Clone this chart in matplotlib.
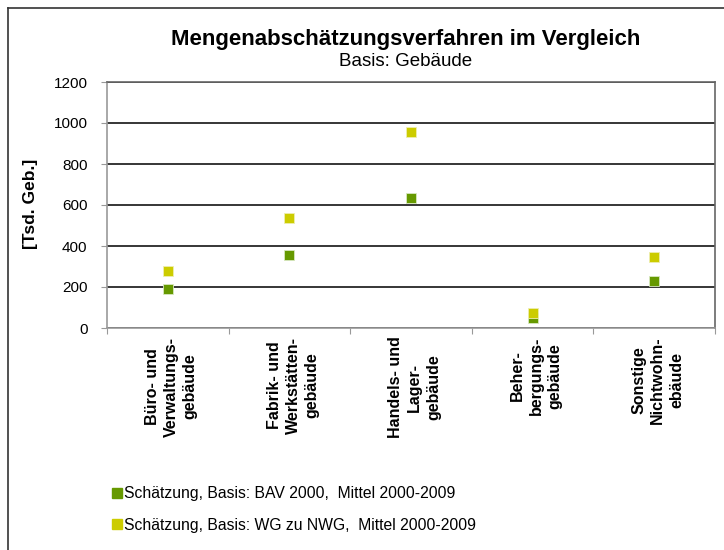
import matplotlib.pyplot as plt
import matplotlib.lines as mlines
import numpy as np

plt.rcParams['font.family'] = ['Liberation Sans', 'DejaVu Sans']

# Daten
kategorien = ['Büro- und\nVerwaltungs-\ngebäude',
              'Fabrik- und\nWerkstätten-\ngebäude',
              'Handels- und\nLager-\ngebäude',
              'Beher-\nbergungs-\ngebäude',
              'Sonstige\nNichtwohn-\nebäude']
bav_2000 = [189, 355, 632, 49, 228]
wg_zu_nwg = [277, 539, 957, 73, 345]
legende = ['Schätzung, Basis: BAV 2000,  Mittel 2000-2009',
           'Schätzung, Basis: WG zu NWG,  Mittel 2000-2009']
farben = ['#669900', '#cccc00']

fig = plt.figure(figsize=(7.24, 5.5), dpi=100)
ax = fig.add_axes([107 / 724, 1 - 328 / 550, (715 - 107) / 724, (328 - 82) / 550])

x = np.arange(len(kategorien))
ax.plot(x, bav_2000, linestyle='none', marker='s', markersize=7.5,
        markerfacecolor=farben[0], markeredgecolor='#d8e8c0', markeredgewidth=0.6, zorder=3)
ax.plot(x, wg_zu_nwg, linestyle='none', marker='s', markersize=7.5,
        markerfacecolor=farben[1], markeredgecolor='#eeeeb0', markeredgewidth=0.6, zorder=3)

ax.set_xlim(-0.5, len(kategorien) - 0.5)
ax.set_ylim(0, 1200)
ax.set_yticks(range(0, 1201, 200))
ax.tick_params(axis='y', labelsize=11, direction='out', length=4, color='#999999', pad=10)
ax.yaxis.grid(True, color='black', linewidth=1.1)
ax.set_axisbelow(True)

# Kategorieticks zwischen den Gruppen
ax.set_xticks(np.arange(-0.5, len(kategorien)))
ax.set_xticklabels([])
ax.tick_params(axis='x', direction='out', length=4, color='#999999')
for i, k in enumerate(kategorien):
    ax.text(i + 0.03, -0.035, k, transform=ax.get_xaxis_transform(), rotation=90,
            ha='center', va='top', multialignment='center',
            fontsize=11.5, fontweight='bold', linespacing=1.32)

ax.spines['left'].set_color('#999999')
ax.spines['bottom'].set_color('#999999')
ax.spines['top'].set_color('#666666')
ax.spines['right'].set_color('#666666')
for s in ax.spines.values():
    s.set_linewidth(1.2)

fig.text(31 / 724, 1 - 204 / 550, '[Tsd. Geb.]', rotation=90, ha='center', va='center',
         fontsize=12.5, fontweight='bold')

fig.text(406 / 724, 1 - 39 / 550, 'Mengenabschätzungsverfahren im Vergleich',
         ha='center', va='center', fontsize=16, fontweight='bold')
fig.text(406 / 724, 1 - 61 / 550, 'Basis: Gebäude', ha='center', va='center', fontsize=13.5)

# Legende
handles = [mlines.Line2D([], [], linestyle='none', marker='s', markersize=7,
                         markerfacecolor=c, markeredgecolor=c) for c in farben]
leg = fig.legend(handles, legende, loc='upper left', bbox_to_anchor=(106 / 724, 1 - 480 / 550),
                 frameon=False, fontsize=11.3, handlelength=0.6, handletextpad=0.15,
                 labelspacing=1.05, borderaxespad=0)

# Rahmen links und oben
fig.add_artist(mlines.Line2D([8 / 724, 8 / 724], [0, 1 - 8 / 550], color='#333333', linewidth=1.2))
fig.add_artist(mlines.Line2D([8 / 724, 1], [1 - 8 / 550, 1 - 8 / 550], color='#333333', linewidth=1.2))

fig.savefig('out.png', dpi=100)
